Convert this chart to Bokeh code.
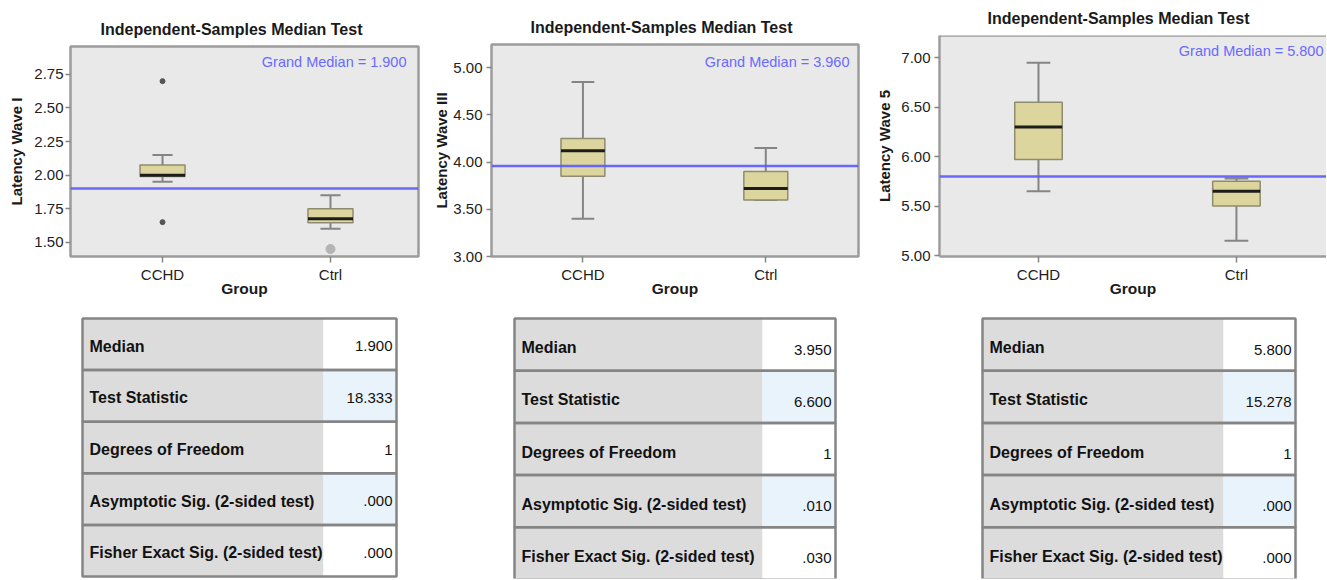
from bokeh.plotting import figure
from bokeh.layouts import row, column, Spacer
from bokeh.models import (Range1d, FixedTicker, NumeralTickFormatter, Span, Label,
                          Title, ColumnDataSource)
from bokeh.embed import file_html
from bokeh.resources import INLINE
from bokeh.core.properties import value

FONT = "Liberation Sans"

# ---------------- data ----------------
groups = ["CCHD", "Ctrl"]

# Latency Wave I
w1_low = [1.95, 1.60]
w1_q1 = [1.99, 1.645]
w1_med = [2.00, 1.675]
w1_q3 = [2.075, 1.75]
w1_high = [2.15, 1.85]
w1_out_grp = ["CCHD", "CCHD"]
w1_out_val = [2.70, 1.65]
w1_ext_grp = ["Ctrl"]
w1_ext_val = [1.45]
w1_grand = 1.900
w1_ticks = [1.50, 1.75, 2.00, 2.25, 2.50, 2.75]

# Latency Wave III
w3_low = [3.40, 3.60]
w3_q1 = [3.85, 3.60]
w3_med = [4.12, 3.72]
w3_q3 = [4.25, 3.90]
w3_high = [4.85, 4.15]
w3_grand = 3.960
w3_ticks = [3.00, 3.50, 4.00, 4.50, 5.00]

# Latency Wave 5
w5_low = [5.65, 5.15]
w5_q1 = [5.97, 5.50]
w5_med = [6.30, 5.65]
w5_q3 = [6.55, 5.75]
w5_high = [6.95, 5.78]
w5_grand = 5.800
w5_ticks = [5.00, 5.50, 6.00, 6.50, 7.00]

# tables
row_labels = ["Median", "Test Statistic", "Degrees of Freedom",
              "Asymptotic Sig. (2-sided test)", "Fisher Exact Sig. (2-sided test)"]
t1_values = ["1.900", "18.333", "1", ".000", ".000"]
t2_values = ["3.950", "6.600", "1", ".010", ".030"]
t3_values = ["5.800", "15.278", "1", ".000", ".000"]

TITLE = "Independent-Samples Median Test"

# ---------------- styles ----------------
BG = "#e9e9e9"
FRAME = "#9c9c9c"
BOX_FILL = "#dcd59d"
BOX_LINE = "#8e8c70"
WHISK = "#858585"
BLUE = "#5a5aff"
BLUE_TXT = "#6a6aff"
TXT = "#1a1a1a"


def box_chart(ylabel, low, q1, med, q3, high, grand, yticks, yr, xr, width, height,
              borders, title_offset, label_off, box_w, cap_w, y_std,
              out_grp=(), out_val=(), ext_grp=(), ext_val=(), open_right=False):
    bl, br, bt, bb = borders
    p = figure(width=width, height=height, x_range=Range1d(*xr), y_range=Range1d(*yr),
               output_backend="svg", toolbar_location=None,
               min_border_left=bl, min_border_right=br, min_border_top=bt,
               min_border_bottom=bb, background_fill_color=BG,
               border_fill_color="white")
    p.title = Title(text=TITLE, align="left", offset=title_offset, standoff=16,
                    vertical_align="middle", text_font=FONT, text_font_size="16px",
                    text_font_style="bold", text_color=TXT)
    p.grid.visible = False
    if open_right:
        p.outline_line_color = None
    else:
        p.outline_line_color = FRAME
        p.outline_line_width = 2.5

    xs = [i + 1 for i in range(len(groups))]
    src = ColumnDataSource(dict(
        x=xs, low=low, q1=q1, med=med, q3=q3, high=high,
        bl=[x - box_w / 2 for x in xs], br=[x + box_w / 2 for x in xs],
        cl=[x - cap_w / 2 for x in xs], cr=[x + cap_w / 2 for x in xs]))

    p.segment(x0="x", y0="q3", x1="x", y1="high", source=src, line_color=WHISK, line_width=2)
    p.segment(x0="x", y0="low", x1="x", y1="q1", source=src, line_color=WHISK, line_width=2)
    p.segment(x0="cl", y0="high", x1="cr", y1="high", source=src, line_color=WHISK, line_width=2)
    p.segment(x0="cl", y0="low", x1="cr", y1="low", source=src, line_color=WHISK, line_width=2)
    p.quad(left="bl", right="br", bottom="q1", top="q3", source=src,
           fill_color=BOX_FILL, line_color=BOX_LINE, line_width=1.5)
    p.segment(x0="bl", y0="med", x1="br", y1="med", source=src,
              line_color="#1c1c1c", line_width=3)

    if out_val:
        p.scatter(x=[groups.index(g) + 1 for g in out_grp], y=list(out_val),
                  size=5, color="#555555")
    if ext_val:
        p.scatter(x=[groups.index(g) + 1 for g in ext_grp], y=list(ext_val),
                  size=9, color="#b4b4b4")

    p.add_layout(Span(location=grand, dimension="width", line_color=BLUE,
                      line_width=2.5, line_alpha=0.9))
    p.add_layout(Label(x=xr[1], y=yr[1], x_offset=label_off[0], y_offset=label_off[1],
                       text=f"Grand Median = {grand:.3f}", text_align="right",
                       text_baseline="middle", text_color=BLUE_TXT,
                       text_font=FONT, text_font_size="14.5px"))
    if open_right:
        p.add_layout(Span(location=yr[1], dimension="width", line_color=FRAME,
                          line_width=2.5))

    ax = p.yaxis[0]
    ax.ticker = FixedTicker(ticks=yticks)
    ax.formatter = NumeralTickFormatter(format="0.00")
    ax.axis_label = ylabel
    ax.axis_label_text_font = FONT
    ax.axis_label_text_font_size = "15px"
    ax.axis_label_text_font_style = "bold"
    ax.axis_label_text_color = TXT
    ax.axis_label_standoff = y_std[1]
    ax.major_label_text_font = FONT
    ax.major_label_text_font_size = "15px"
    ax.major_label_text_color = "#222222"
    ax.major_label_standoff = y_std[0]
    ax.major_tick_out = 5
    ax.major_tick_in = 0
    ax.major_tick_line_color = WHISK
    ax.major_tick_line_width = 1.5
    ax.minor_tick_line_color = None

    bx = p.xaxis[0]
    bx.ticker = FixedTicker(ticks=xs)
    bx.major_label_overrides = {x: g for x, g in zip(xs, groups)}
    bx.axis_label = "Group"
    bx.axis_label_text_font = FONT
    bx.axis_label_text_font_size = "15.5px"
    bx.axis_label_text_font_style = "bold"
    bx.axis_label_text_color = TXT
    bx.axis_label_standoff = -6
    bx.major_label_text_font = FONT
    bx.major_label_text_font_size = "15px"
    bx.major_label_text_color = "#222222"
    bx.major_label_standoff = 3
    bx.major_tick_out = 6
    bx.major_tick_in = 0
    bx.major_tick_line_color = WHISK
    bx.major_tick_line_width = 1.5
    bx.minor_tick_line_color = None

    if open_right:
        for a in (ax, bx):
            a.axis_line_color = FRAME
            a.axis_line_width = 2.5
    else:
        for a in (ax, bx):
            a.axis_line_color = None
    return p


def table_fig(values, width, borders, visible_rows, split, pad_x, pad_y, lab_dy, val_dy):
    bl, br, bt, bb = borders
    n = len(row_labels)
    p = figure(width=width, height=279, x_range=Range1d(-pad_x, 1 + pad_x),
               y_range=Range1d(visible_rows, -pad_y),
               output_backend="svg", toolbar_location=None,
               x_axis_type=None, y_axis_type=None,
               min_border_left=bl, min_border_right=br, min_border_top=bt,
               min_border_bottom=bb, background_fill_color="white",
               border_fill_color="white")
    p.grid.visible = False
    p.outline_line_color = None
    idx = list(range(n))
    src = ColumnDataSource(dict(
        top=idx, bottom=[i + 1 for i in idx], mid=[i + 0.5 for i in idx],
        label=row_labels, val=values,
        vfill=["#ffffff" if i % 2 == 0 else "#e9f3fc" for i in idx]))
    p.quad(left=0, right=split, top="top", bottom="bottom", source=src,
           fill_color="#dcdcdc", line_color=None)
    p.quad(left=split, right=1, top="top", bottom="bottom", source=src,
           fill_color="vfill", line_color=None)
    p.quad(left=0, right=1, top="top", bottom="bottom", source=src,
           fill_color=None, line_color="#858585", line_width=2.5)
    p.text(x=0, y="mid", text="label", source=src, x_offset=7, y_offset=lab_dy,
           text_align="left", text_baseline="middle", text_color="#111111",
           text_font=value(FONT), text_font_size=value("16px"),
           text_font_style="bold")
    p.text(x=1, y="mid", text="val", source=src, x_offset=-4, y_offset=val_dy,
           text_align="right", text_baseline="middle", text_color="#111111",
           text_font=value(FONT), text_font_size=value("15px"))
    return p


c1 = box_chart("Latency Wave I", w1_low, w1_q1, w1_med, w1_q3, w1_high, w1_grand,
               w1_ticks, (1.394, 2.958), (0.452, 2.524), 430, 289, (70, 12, 35, 44),
               30, (-12, -15), 0.268, 0.12, (2, 6),
               out_grp=w1_out_grp, out_val=w1_out_val,
               ext_grp=w1_ext_grp, ext_val=w1_ext_val)
c2 = box_chart("Latency Wave III", w3_low, w3_q1, w3_med, w3_q3, w3_high, w3_grand,
               w3_ticks, (3.0, 5.247), (0.5, 2.507), 440, 291, (60, 12, 35, 44),
               39, (-9, -17), 0.24, 0.124, (4, 0))
c3 = box_chart("Latency Wave 5", w5_low, w5_q1, w5_med, w5_q3, w5_high, w5_grand,
               w5_ticks, (4.99, 7.225), (0.5, 2.455), 456, 300, (69, 0, 35, 44),
               48, (-3, -15), 0.24, 0.12, (4, 5), open_right=True)

t1 = table_fig(t1_values, 430, (80, 32, 16, 1), 5 + 2 / 51.8, 0.7675,
               2 / 314, 2 / 51.8, 2, 2)
t2 = table_fig(t2_values, 440, (82, 33, 15, 0), 4.98, 0.7726,
               2 / 321, 2 / 52.7, 3, 5)
t3 = table_fig(t3_values, 456, (110, 29, 14, 0), 4.98, 0.77,
               2 / 313, 2 / 53, 3, 5)

top = row(column(Spacer(width=430, height=11), c1),
          column(Spacer(width=440, height=9), c2),
          c3)
layout = column(top, row(t1, t2, t3))

open("out.html", "w").write(file_html(layout, INLINE))
